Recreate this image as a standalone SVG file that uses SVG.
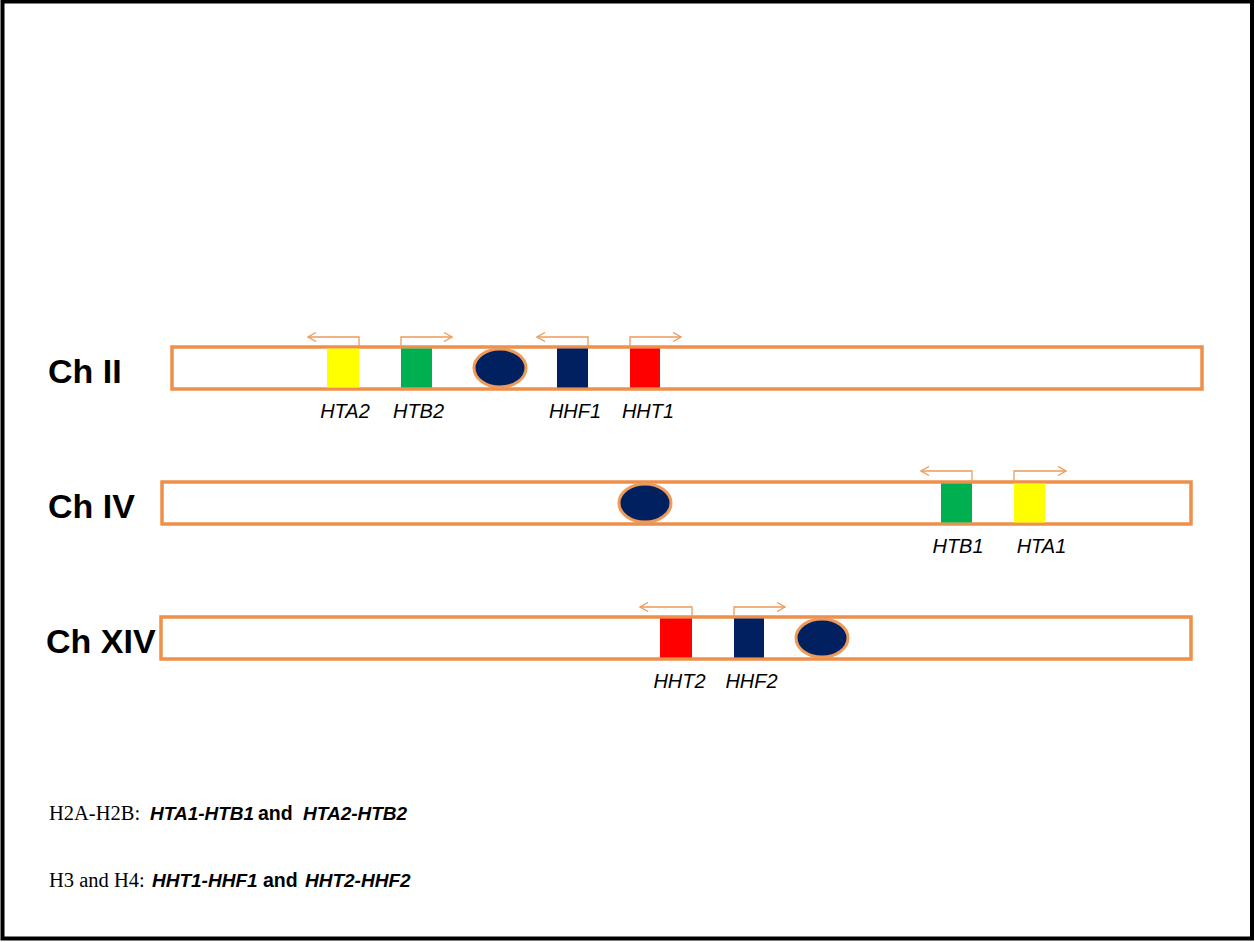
<svg xmlns="http://www.w3.org/2000/svg" width="1255" height="942" viewBox="0 0 1255 942">
<style>
.frame{fill:#fff;stroke:#000;stroke-width:4}
.chr{fill:#fff;stroke:#EE8F4A;stroke-width:3.5}
.cen{fill:#002060;stroke:#EE9A5A;stroke-width:3}
.arr{fill:none;stroke:#EE9A5A;stroke-width:1.3}
.chl{font-family:"Liberation Sans",Arial,sans-serif;font-weight:bold;font-size:34px;fill:#000}
.gl{font-family:"Liberation Sans",Arial,sans-serif;font-style:italic;font-size:20px;fill:#000;text-anchor:middle}
.ser{font-family:"Liberation Serif","Times New Roman",serif;font-size:20.5px;fill:#000}
.bi{font-family:"Liberation Sans",Arial,sans-serif;font-weight:bold;font-style:italic;font-size:19px}
.b{font-family:"Liberation Sans",Arial,sans-serif;font-weight:bold;font-size:19.5px}
.y{fill:#FFFF00}.g{fill:#00B050}.n{fill:#002060}.r{fill:#FF0000}
</style>
<defs>
<marker id="ah" viewBox="0 0 10 10" refX="9" refY="5" markerWidth="10" markerHeight="10" markerUnits="userSpaceOnUse" orient="auto">
<path d="M1,0.5 L9,5 L1,9.5" fill="none" stroke="#EE9A5A" stroke-width="1.3"/>
</marker>
</defs>
<rect class="frame" x="2.5" y="1.5" width="1249.5" height="937"/>

<g id="chII">
<rect class="chr" x="172" y="347" width="1030" height="42"/>
<text class="chl" x="48" y="383">Ch II</text>
</g>
<g id="chIV">
<rect class="chr" x="162" y="482" width="1029" height="42"/>
<text class="chl" x="48" y="518">Ch IV</text>
</g>
<g id="chXIV">
<rect class="chr" x="161" y="617" width="1030" height="42"/>
<text class="chl" x="46" y="653">Ch XIV</text>
</g>

<g id="cen2"><ellipse class="cen" cx="500" cy="368" rx="26" ry="19"/></g>
<g id="cen4"><ellipse class="cen" cx="645" cy="503" rx="26" ry="19"/></g>
<g id="cen14"><ellipse class="cen" cx="822" cy="638" rx="26" ry="19"/></g>

<g id="HTA2"><rect class="y" x="327" y="348.5" width="32" height="39"/><text class="gl" x="345" y="418">HTA2</text></g>
<g id="HTB2"><rect class="g" x="401" y="348.5" width="31" height="39"/><text class="gl" x="418.5" y="418">HTB2</text></g>
<g id="HHF1"><rect class="n" x="557" y="348.5" width="31" height="39"/><text class="gl" x="575" y="418">HHF1</text></g>
<g id="HHT1"><rect class="r" x="630" y="348.5" width="30" height="39"/><text class="gl" x="648" y="418">HHT1</text></g>

<g id="HTB1"><rect class="g" x="941" y="483.5" width="31" height="39"/><text class="gl" x="958" y="553">HTB1</text></g>
<g id="HTA1"><rect class="y" x="1014" y="483.5" width="31" height="39"/><text class="gl" x="1041.5" y="553">HTA1</text></g>

<g id="HHT2"><rect class="r" x="660" y="618.5" width="32" height="39"/><text class="gl" x="679.5" y="688">HHT2</text></g>
<g id="HHF2"><rect class="n" x="734" y="618.5" width="30" height="39"/><text class="gl" x="751.5" y="688">HHF2</text></g>

<g id="connectors">
<path class="arr" d="M359,347 V337 H308" marker-end="url(#ah)"/>
<path class="arr" d="M401,347 V337 H452" marker-end="url(#ah)"/>
<path class="arr" d="M588,347 V337 H537" marker-end="url(#ah)"/>
<path class="arr" d="M630,347 V337 H681" marker-end="url(#ah)"/>
<path class="arr" d="M972,482 V471 H921" marker-end="url(#ah)"/>
<path class="arr" d="M1014,482 V471 H1066" marker-end="url(#ah)"/>
<path class="arr" d="M692,617 V607 H640" marker-end="url(#ah)"/>
<path class="arr" d="M734,617 V607 H785" marker-end="url(#ah)"/>
</g>

<g id="legend">
<text y="820"><tspan class="ser" x="49">H2A-H2B:</tspan><tspan class="bi" x="150">HTA1-HTB1</tspan><tspan class="b" x="258">and</tspan><tspan class="bi" x="303">HTA2-HTB2</tspan></text>
<text y="887"><tspan class="ser" x="49">H3 and H4:</tspan><tspan class="bi" x="152">HHT1-HHF1</tspan><tspan class="b" x="263">and</tspan><tspan class="bi" x="305">HHT2-HHF2</tspan></text>
</g>
</svg>
